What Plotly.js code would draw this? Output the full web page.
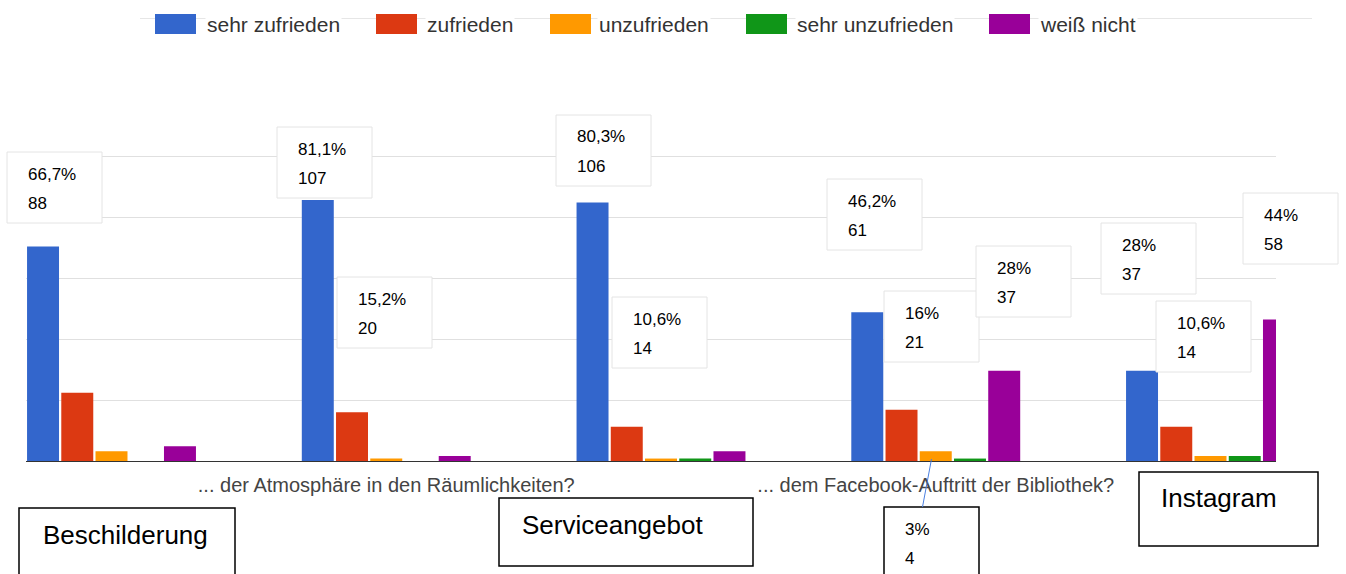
<!DOCTYPE html>
<html>
<head>
<meta charset="utf-8">
<script src="https://cdn.plot.ly/plotly-3.0.1.min.js"></script>
<style>
  html, body { margin: 0; padding: 0; background: #ffffff; }
  #chart { width: 1346px; height: 574px; }
</style>
</head>
<body>
<div id="chart"></div>
<script>
// ---------- DATA ----------
const categories = [
  "Beschilderung",
  "... der Atmosphäre in den Räumlichkeiten?",
  "Serviceangebot",
  "... dem Facebook-Auftritt der Bibliothek?",
  "Instagram"
];
const seriesNames = ["sehr zufrieden", "zufrieden", "unzufrieden", "sehr unzufrieden", "weiß nicht"];
const sehrZufrieden   = [88, 107, 106, 61, 37];
const zufrieden       = [28, 20, 14, 21, 14];
const unzufrieden     = [4, 1, 1, 4, 2];
const sehrUnzufrieden = [0, 0, 1, 1, 2];
const weissNicht      = [6, 2, 4, 37, 58];

// value labels shown in the boxes: series index, category index, percent text
const labelSeriesIdx = [0, 0, 1, 0, 1, 0, 1, 4, 0, 1, 4, 2];
const labelCatIdx    = [0, 1, 1, 2, 2, 3, 3, 3, 4, 4, 4, 3];
const labelPercent   = ["66,7%", "81,1%", "15,2%", "80,3%", "10,6%", "46,2%", "16%", "28%", "28%", "10,6%", "44%", "3%"];

// tick labels shown on the axis and the boxed category names
const shownTickIdx = [1, 3];
const boxedCatIdx  = [0, 2, 4];

// ---------- STYLE / LAYOUT ----------
const allSeries = [sehrZufrieden, zufrieden, unzufrieden, sehrUnzufrieden, weissNicht];
const colors = ["#3366cc", "#dc3912", "#ff9900", "#109618", "#990099"];
const FONT = "Liberation Sans, Arial, sans-serif";

const L = 26, R = 1276, T = 144, B = 461;
const W = R - L, H = B - T;
const px = x => (x - L) / W;
const py = y => (B - y) / H;

const traces = allSeries.map((vals, i) => ({
  type: "bar",
  name: seriesNames[i],
  x: categories,
  y: vals,
  marker: { color: colors[i], line: { width: 0 } },
  hoverinfo: "name+y"
}));

const shapes = [];
const annotations = [];

// legend (drawn manually to match the wide colour keys)
shapes.push({ type: "line", xref: "paper", yref: "paper",
  x0: px(140), x1: px(1312), y0: py(18.5), y1: py(18.5),
  line: { color: "#e6e6e6", width: 1 }, layer: "above" });
const legRect = [155, 376, 550, 746, 989];
const legText = [207, 427, 599, 797, 1040];
seriesNames.forEach((n, i) => {
  shapes.push({ type: "rect", xref: "paper", yref: "paper",
    x0: px(legRect[i]), x1: px(legRect[i] + 41), y0: py(34), y1: py(14),
    fillcolor: colors[i], line: { width: 0 }, layer: "above" });
  annotations.push({ xref: "paper", yref: "paper", x: px(legText[i] - 2), y: py(25),
    xanchor: "left", yanchor: "middle", showarrow: false, text: n,
    bgcolor: "#ffffff", borderpad: 1,
    font: { family: FONT, size: 21, color: "#333333" } });
});

// value label boxes
const boxPos = [[7,152],[277,127],[337,277],[556,115],[612,297],[827,179],[884,291],[976,246],[1101,223],[1156,301],[1243,193],[884,507]];
labelPercent.forEach((p, k) => {
  const [bx, by] = boxPos[k];
  const last = k === labelPercent.length - 1;
  shapes.push({ type: "rect", xref: "paper", yref: "paper",
    x0: px(bx), x1: px(bx + 95), y0: py(last ? 620 : by + 71), y1: py(by),
    fillcolor: "#ffffff",
    line: { color: last ? "#000000" : "#e4e4e4", width: last ? 1.5 : 1 }, layer: "above" });
  const count = allSeries[labelSeriesIdx[k]][labelCatIdx[k]];
  [[p, 22], [String(count), 51]].forEach(([t, dy]) => {
    annotations.push({ xref: "paper", yref: "paper", x: px(bx + 19), y: py(by + dy),
      xanchor: "left", yanchor: "middle", showarrow: false, text: t,
      font: { family: FONT, size: 17, color: "#000000" } });
  });
});
// connector line for the 3% box
shapes.push({ type: "line", xref: "paper", yref: "paper",
  x0: px(931.5), y0: py(459), x1: px(922.5), y1: py(507),
  line: { color: "#4a7fe0", width: 1 }, layer: "above" });

// boxed category names
const catBox = [[19, 508, 235, 620, 125, 535], [499, 498, 753, 566, 612, 525], [1139, 472, 1318, 546, 1219, 498]];
boxedCatIdx.forEach((ci, k) => {
  const [x0, y0, x1, y1, tx, ty] = catBox[k];
  shapes.push({ type: "rect", xref: "paper", yref: "paper",
    x0: px(x0), x1: px(x1), y0: py(y1), y1: py(y0),
    fillcolor: "#ffffff", line: { color: "#000000", width: 1.5 }, layer: "above" });
  annotations.push({ xref: "paper", yref: "paper", x: px(tx), y: py(ty),
    xanchor: "center", yanchor: "middle", showarrow: false, text: categories[ci],
    font: { family: FONT, size: 26, color: "#000000" } });
});

const layout = {
  width: 1346, height: 574,
  margin: { l: L, r: 1346 - R, t: T, b: 574 - B, pad: 0 },
  paper_bgcolor: "#ffffff", plot_bgcolor: "#ffffff",
  showlegend: false,
  barmode: "group",
  bargap: 0.377,
  bargroupgap: 0.066,
  font: { family: FONT },
  xaxis: {
    type: "category",
    range: [-0.3112, 4.2384],
    tickmode: "array",
    tickvals: shownTickIdx.map(i => categories[i]),
    ticktext: shownTickIdx.map(i => categories[i]),
    ticks: "outside", ticklen: 6, tickcolor: "rgba(0,0,0,0)",
    showgrid: false,
    zeroline: false,
    showline: true, linecolor: "#333333", linewidth: 1,
    tickfont: { family: FONT, size: 20, color: "#444444" },
    fixedrange: true
  },
  yaxis: {
    range: [0, 130],
    tick0: 0, dtick: 25,
    showgrid: true, gridcolor: "#e0e0e0", gridwidth: 1,
    zeroline: false,
    showticklabels: false,
    ticks: "",
    fixedrange: true
  },
  shapes: shapes,
  annotations: annotations
};

Plotly.newPlot("chart", traces, layout, { displayModeBar: false, staticPlot: true });
</script>
</body>
</html>
